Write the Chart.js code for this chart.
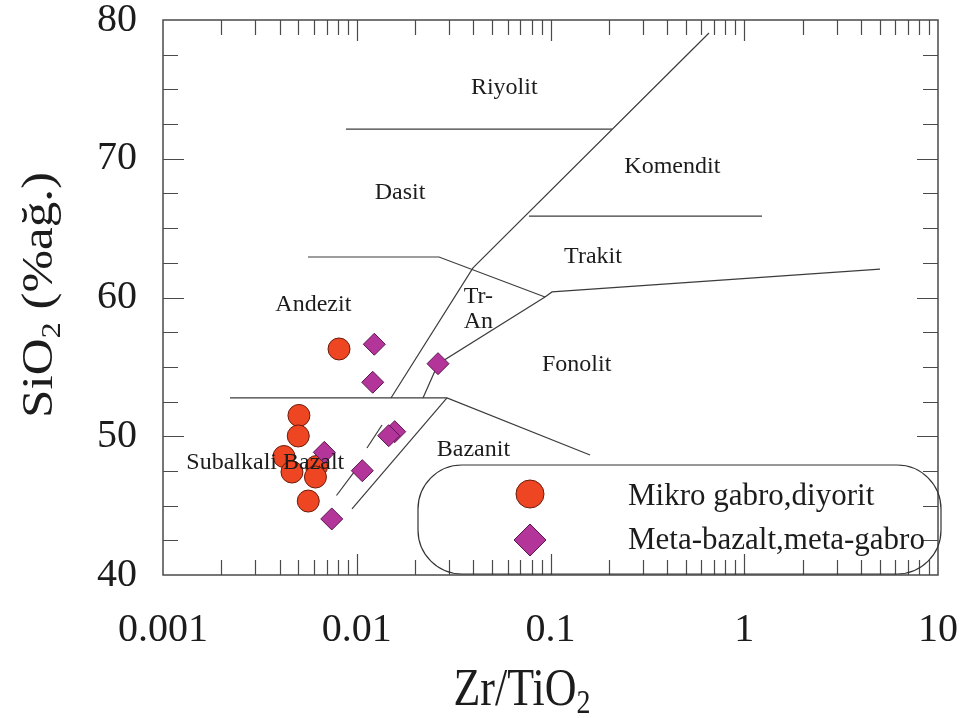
<!DOCTYPE html>
<html><head><meta charset="utf-8">
<script src="https://cdn.jsdelivr.net/npm/chart.js@4.4.0/dist/chart.umd.min.js"></script>
<style>html,body{margin:0;padding:0;background:#fff;}#wrap{width:962px;height:718px;position:relative;}</style>
</head><body><div id="wrap"><canvas id="c"></canvas></div>
<script>
// ---- data ----
const xTickValues = [0.001, 0.01, 0.1, 1, 10];
const xTickLabels = ['0.001', '0.01', '0.1', '1', '10'];
const yTickValues = [40, 50, 60, 70, 80];
const yTickLabels = ['40', '50', '60', '70', '80'];
const xAxisTitle = ['Zr/TiO', '2'];
const yAxisTitle = ['SiO', '2', ' (%ağ.)'];
const seriesNames = ['Mikro gabro,diyorit', 'Meta-bazalt,meta-gabro'];
const gabroX = [0.00810, 0.00503, 0.00499, 0.00421, 0.00463, 0.00620, 0.00612, 0.00562];
const gabroY = [56.29, 51.50, 50.02, 48.54, 47.42, 47.82, 47.06, 45.33];
const metaX = [0.01232, 0.01209, 0.02627, 0.01570, 0.01462, 0.00680, 0.01068, 0.00743];
const metaY = [56.63, 53.89, 55.23, 50.33, 50.04, 48.84, 47.52, 44.04];
const regionNames = ['Riyolit', 'Komendit', 'Dasit', 'Trakit', 'Andezit', 'Tr-', 'An', 'Fonolit', 'Bazanit', 'Subalkali Bazalt'];
const regionX = [0.0577, 0.4253, 0.01672, 0.1657, 0.00597, 0.0424, 0.0424, 0.1365, 0.0400, 0.003373];
const regionY = [75.12, 69.43, 67.53, 62.94, 59.46, 60.06, 58.26, 55.14, 49.01, 48.09];
// classification boundaries [x, y]
const lineRhyoliteDacite = [[0.0088, 72.14], [0.2077, 72.14]];
const lineComenditeTrachyte = [[0.0774, 65.87], [1.235, 65.87]];
const lineSubalkalineAlkaline = [[0.6577, 79.06], [0.0398, 62.13], [0.01502, 52.76]];
const lineDaciteAndesite = [[0.0056, 62.92], [0.02658, 62.92], [0.0937, 60.04]];
const lineTrachytePhonolite = [[0.0937, 60.04], [0.1018, 60.40], [5.02, 62.05]];
const lineTrAnPhonolite = [[0.0937, 60.04], [0.02627, 55.21], [0.02197, 52.76]];
const lineAndesiteBasalt = [[0.002217, 52.76], [0.02922, 52.76], [0.16, 48.65]];
const lineBasaltBasanite = [[0.02922, 52.76], [0.00945, 44.76]];
const lineAlkBasaltUpper = [[0.0135, 50.81], [0.01129, 49.15]];
const lineAlkBasaltLower = [[0.00968, 47.42], [0.00786, 45.73]];
const boundaryLines = [lineRhyoliteDacite, lineComenditeTrachyte, lineSubalkalineAlkaline, lineDaciteAndesite,
  lineTrachytePhonolite, lineTrAnPhonolite, lineAndesiteBasalt, lineBasaltBasanite, lineAlkBasaltUpper, lineAlkBasaltLower];

// ---- styles ----
const SERIF = "'Liberation Serif', 'Times New Roman', serif";
const INK = '#1c1c1c';
const FRAME = '#4a4a4a';
const gabroStyle = { pointStyle: 'circle', radius: 11, fill: '#EE4522', border: '#6a1c0c' };
const metaStyle = { pointStyle: 'rectRot', radius: 11, fill: '#B3359A', border: '#5c1650' };

const datasets = [];
boundaryLines.forEach(l => datasets.push({
  type: 'line', data: l.map(p => ({ x: p[0], y: p[1] })), showLine: true, tension: 0,
  borderColor: '#3c3c3c', borderWidth: 1.2, pointRadius: 0, pointHoverRadius: 0, fill: false, order: 3
}));
datasets.push({
  label: seriesNames[0], data: gabroX.map((x, i) => ({ x, y: gabroY[i] })),
  pointStyle: gabroStyle.pointStyle, pointRadius: gabroStyle.radius, pointHoverRadius: gabroStyle.radius,
  backgroundColor: gabroStyle.fill, borderColor: gabroStyle.border, borderWidth: 1, order: 2
});
datasets.push({
  label: seriesNames[1], data: metaX.map((x, i) => ({ x, y: metaY[i] })),
  pointStyle: metaStyle.pointStyle, pointRadius: metaStyle.radius, pointHoverRadius: metaStyle.radius,
  backgroundColor: metaStyle.fill, borderColor: metaStyle.border, borderWidth: 1, order: 1
});

function drawMarker(ctx, st, x, y, r) {
  ctx.save();
  ctx.fillStyle = st.fill; ctx.strokeStyle = st.border; ctx.lineWidth = 1;
  ctx.beginPath();
  if (st.pointStyle === 'circle') { ctx.arc(x, y, r, 0, Math.PI * 2); }
  else { ctx.moveTo(x - r, y); ctx.lineTo(x, y - r); ctx.lineTo(x + r, y); ctx.lineTo(x, y + r); ctx.closePath(); }
  ctx.fill(); ctx.stroke();
  ctx.restore();
}

const overlay = {
  id: 'overlay',
  afterDatasetsDraw(chart) {
    const ctx = chart.ctx, xs = chart.scales.x, ys = chart.scales.y, a = chart.chartArea;
    ctx.save();
    // region names
    ctx.fillStyle = INK; ctx.font = '24px ' + SERIF; ctx.textAlign = 'center'; ctx.textBaseline = 'middle';
    regionNames.forEach((n, i) => ctx.fillText(n, xs.getPixelForValue(regionX[i]), ys.getPixelForValue(regionY[i])));
    // frame
    ctx.strokeStyle = FRAME; ctx.lineWidth = 1.5;
    ctx.strokeRect(a.left, a.top, a.right - a.left, a.bottom - a.top);
    // inward ticks
    ctx.lineWidth = 1.2;
    ctx.beginPath();
    for (let e = -3; e < 1; e++) {
      for (let m = 1; m <= 9; m++) {
        const v = m * Math.pow(10, e);
        if (m === 1 && e === -3) continue;
        const px = Math.round(xs.getPixelForValue(v)) + 0.5;
        const len = m === 1 ? 21 : 15;
        ctx.moveTo(px, a.top); ctx.lineTo(px, a.top + len);
        ctx.moveTo(px, a.bottom); ctx.lineTo(px, a.bottom - len);
      }
    }
    for (let v = 42.5; v < 80; v += 2.5) {
      const py = Math.round(ys.getPixelForValue(v)) + 0.5;
      const len = v % 10 === 0 ? 21 : 15;
      ctx.moveTo(a.left, py); ctx.lineTo(a.left + len, py);
      ctx.moveTo(a.right, py); ctx.lineTo(a.right - len, py);
    }
    ctx.stroke();
    // legend
    const lx = a.left + 255, ly = a.bottom - 110, lw = 523, lh = 109;
    ctx.strokeStyle = '#333'; ctx.lineWidth = 1.2;
    ctx.beginPath(); ctx.roundRect(lx, ly, lw, lh, 44); ctx.stroke();
    drawMarker(ctx, gabroStyle, lx + 112, ly + 29, 14);
    drawMarker(ctx, metaStyle, lx + 112, ly + 75, 16);
    ctx.fillStyle = INK; ctx.font = '31px ' + SERIF; ctx.textAlign = 'left'; ctx.textBaseline = 'middle';
    ctx.fillText(seriesNames[0], lx + 210, ly + 32);
    ctx.fillText(seriesNames[1], lx + 210, ly + 76);
    // x axis title (slightly tall glyphs like the original)
    ctx.save();
    ctx.textBaseline = 'alphabetic'; ctx.textAlign = 'left';
    ctx.translate(522, 705); ctx.scale(1, 1.2);
    ctx.font = '44px ' + SERIF;
    const w1 = ctx.measureText(xAxisTitle[0]).width;
    ctx.font = '28px ' + SERIF;
    const w2 = ctx.measureText(xAxisTitle[1]).width;
    const sx = -(w1 + w2) / 2;
    ctx.font = '44px ' + SERIF; ctx.fillText(xAxisTitle[0], sx, 0);
    ctx.font = '28px ' + SERIF; ctx.fillText(xAxisTitle[1], sx + w1, 7);
    ctx.restore();
    // y axis title (rotated, elongated along its length)
    ctx.save();
    ctx.textBaseline = 'alphabetic'; ctx.textAlign = 'left';
    ctx.translate(52, 295); ctx.rotate(-Math.PI / 2); ctx.scale(1.16, 1);
    ctx.font = '44px ' + SERIF; const t1 = ctx.measureText(yAxisTitle[0]).width; const t3 = ctx.measureText(yAxisTitle[2]).width;
    ctx.font = '28px ' + SERIF; const t2 = ctx.measureText(yAxisTitle[1]).width;
    const sy = -(t1 + t2 + t3) / 2;
    ctx.font = '44px ' + SERIF; ctx.fillText(yAxisTitle[0], sy, 0);
    ctx.font = '28px ' + SERIF; ctx.fillText(yAxisTitle[1], sy + t1, 8);
    ctx.font = '44px ' + SERIF; ctx.fillText(yAxisTitle[2], sy + t1 + t2, 0);
    ctx.restore();
    ctx.restore();
  }
};

new Chart(document.getElementById('c'), {
  type: 'scatter',
  data: { datasets },
  options: {
    responsive: true, maintainAspectRatio: false, animation: false,
    layout: { padding: { left: 0, right: 24, top: 20, bottom: 0 } },
    plugins: { legend: { display: false }, tooltip: { enabled: false }, title: { display: false } },
    scales: {
      x: {
        type: 'logarithmic', min: 0.001, max: 10, position: 'bottom',
        afterBuildTicks: s => { s.ticks = xTickValues.map(v => ({ value: v, major: true })); },
        afterFit: s => { s.height = 143; s.paddingLeft = 0; s.paddingRight = 0; },
        grid: { display: false, drawTicks: false }, border: { display: false },
        ticks: { font: { family: SERIF, size: 40 }, color: INK, padding: 31, maxRotation: 0, autoSkip: false,
          callback: v => xTickLabels[xTickValues.findIndex(t => Math.abs(t - v) / t < 1e-6)] }
      },
      y: {
        type: 'linear', min: 40, max: 80, position: 'left',
        afterBuildTicks: s => { s.ticks = yTickValues.map(v => ({ value: v })); },
        afterFit: s => { s.width = 163; s.paddingTop = 0; s.paddingBottom = 0; },
        grid: { display: false, drawTicks: false }, border: { display: false },
        ticks: { font: { family: SERIF, size: 40 }, color: INK, padding: 26,
          callback: v => yTickLabels[yTickValues.indexOf(v)] }
      }
    }
  },
  plugins: [overlay]
});
</script></body></html>
